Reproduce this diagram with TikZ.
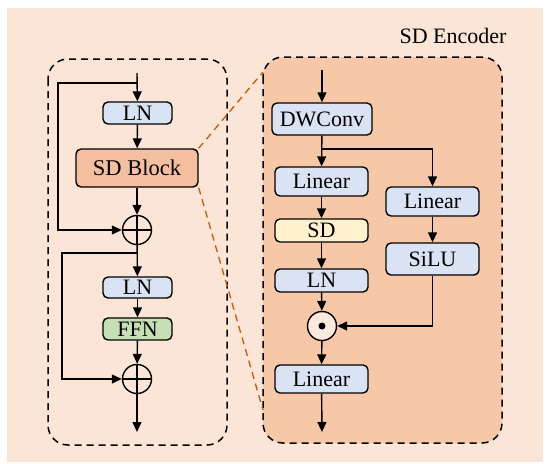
\documentclass[tikz,border=0pt]{standalone}
\usepackage{fontspec}
\setmainfont{Liberation Serif}
\usetikzlibrary{arrows.meta}
\definecolor{bgpeach}{HTML}{FBE5D6}
\definecolor{boxpeach}{HTML}{F7C8A8}
\definecolor{sdorange}{HTML}{F4BF9E}
\definecolor{lnblue}{HTML}{DAE3F3}
\definecolor{ffngreen}{HTML}{C5E0B4}
\definecolor{sdyellow}{HTML}{FFF2CC}
\definecolor{linkorange}{HTML}{C55A11}
\definecolor{odfill}{HTML}{FCEADF}
\begin{document}
\begin{tikzpicture}[x=1pt,y=-1pt,
  blk/.style={draw, line width=1.4pt, rounded corners=5pt, inner sep=0pt, font=\fontsize{22}{24}\selectfont},
  opc/.style={draw, circle, line width=1.4pt, inner sep=0pt, minimum size=29pt},
  arr/.style={line width=1.4pt, -{Triangle[length=10pt,width=9pt]}},
  ln/.style={line width=1.4pt},
  dbox/.style={draw, line width=1.5pt, dash pattern=on 7pt off 5pt, rounded corners=20pt},
  olink/.style={draw=linkorange, line width=1.3pt, dash pattern=on 7pt off 5pt}]
\useasboundingbox (0,0) rectangle (550,464);
\fill[bgpeach] (7,8) rectangle (543,462);
\node[font=\fontsize{22}{24}\selectfont] (title) at (453,36) {SD Encoder};
% dashed boxes
\path[dbox] (48,59) rectangle (227,445);
\path[dbox, fill=boxpeach] (263,57) rectangle (502,443);
% left column
\coordinate (lin) at (137,73);
\coordinate (s1) at (137,83);
\node[blk, fill=lnblue, minimum width=69pt, minimum height=22pt] (ln1) at (137.5,113) {LN};
\node[blk, fill=sdorange, minimum width=122pt, minimum height=38pt, font=\fontsize{22.5}{24}\selectfont] (sdb) at (137,168) {SD Block};
\node[opc] (p1) at (137,230) {};
\draw[ln] (p1.north) -- (p1.south) (p1.west) -- (p1.east);
\coordinate (s2) at (137,253);
\node[blk, fill=lnblue, minimum width=69pt, minimum height=21pt] (ln2) at (137.5,287.5) {LN};
\node[blk, fill=ffngreen, minimum width=69pt, minimum height=22pt] (ffn) at (137.5,329) {FFN};
\node[opc] (p2) at (137,379) {};
\draw[ln] (p2.north) -- (p2.south) (p2.west) -- (p2.east);
\coordinate (lout) at (137,432);
\draw[arr] (lin) -- (ln1);
\draw[arr] (ln1) -- (sdb);
\draw[arr] (sdb) -- (p1);
\draw[arr] (s1) -- ++(-79,0) |- (p1);
\draw[arr] (p1) -- (ln2);
\draw[arr] (s2) -- ++(-75,0) |- (p2);
\draw[arr] (ln2) -- (ffn);
\draw[arr] (ffn) -- (p2);
\draw[arr] (p2) -- (lout);
% orange links
\coordinate (c1) at (263,72);
\coordinate (c2) at (263,410);
\draw[olink] (sdb.north east) -- (c1);
\draw[olink] (sdb.south east) -- (c2);
% right column
\coordinate (rin) at (322,70);
\node[blk, fill=lnblue, minimum width=100pt, minimum height=32pt] (dw) at (322,119) {DWConv};
\coordinate (br) at (322,149);
\node[blk, fill=lnblue, minimum width=93pt, minimum height=29pt] (lin1) at (321.5,181.5) {Linear};
\node[blk, fill=lnblue, minimum width=93pt, minimum height=29pt] (lin2) at (432.5,201.5) {Linear};
\node[blk, fill=sdyellow, minimum width=93pt, minimum height=23pt] (sd) at (321.5,230.5) {SD};
\node[blk, fill=lnblue, minimum width=93pt, minimum height=32pt] (silu) at (432.5,259) {SiLU};
\node[blk, fill=lnblue, minimum width=93pt, minimum height=23pt] (ln3) at (321.5,280.5) {LN};
\node[opc, fill=odfill] (od) at (322,326) {};
\fill (od.center) circle (3.5pt);
\node[blk, fill=lnblue, minimum width=93pt, minimum height=28pt] (lin3) at (321.5,379) {Linear};
\coordinate (rout) at (322,432);
\draw[arr] (rin) -- (dw);
\draw[arr] (dw) -- (lin1);
\draw[arr] (br) -| (lin2);
\draw[arr] (lin1) -- (sd);
\draw[arr] (lin2) -- (silu);
\draw[arr] (sd) -- (ln3);
\draw[arr] (ln3) -- (od);
\draw[arr] (silu) |- (od);
\draw[arr] (od) -- (lin3);
\draw[arr] (lin3) -- (rout);
\end{tikzpicture}
\end{document}
